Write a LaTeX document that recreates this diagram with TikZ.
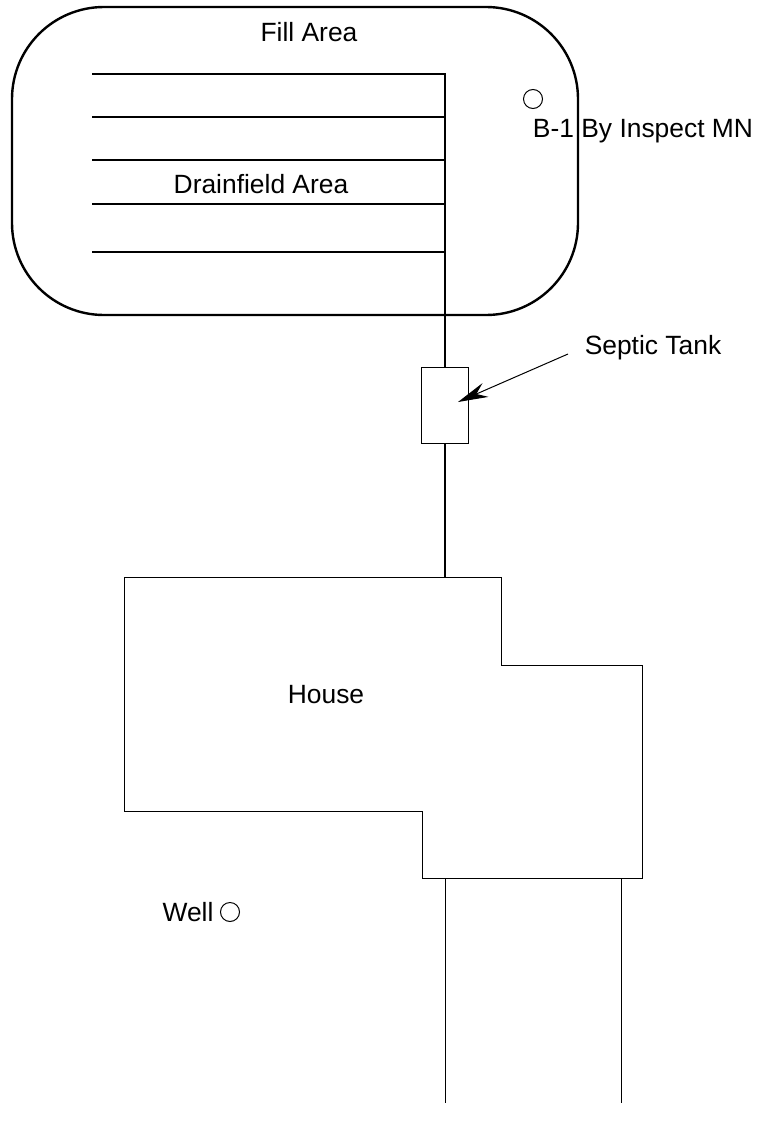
\documentclass[tikz,border=0pt]{standalone}
\usepackage{fontspec}
\setmainfont{Liberation Sans}
\usetikzlibrary{arrows.meta}

\begin{document}
\begin{tikzpicture}[x=1pt,y=-1pt,thin line/.style={line width=1pt},
    thick line/.style={line width=2.4pt},
    label/.style={font=\fontsize{26.4}{30}\selectfont,inner sep=0pt,anchor=base},
    hole/.style={circle,draw,line width=1pt,minimum size=19pt,inner sep=0pt},
    tank/.style={rectangle,draw,thin line,fill=white,minimum width=47pt,minimum height=76pt,inner sep=0pt}]
   \useasboundingbox (0,0) rectangle (760,1132);
   \node[label] (fill) at (309,42) {Fill Area};
   \node[label] (drainfield) at (261,193) {Drainfield Area};
   \node[label] (house) at (326,703) {House};
   \node[label] (septic) at (653,354) {Septic Tank};
   \node[label] (boring) at (643,137) {B-1 By Inspect MN};
   \node[label] (well) at (188,921) {Well};
   \node[hole] (b_1) at (533,99) {};
   \node[hole] (w_1) at (230,912) {};
   \node[tank] (t_1) at (445,405) {};
   \coordinate (top) at (445,74);
   \coordinate (l_1) at (92,74);
   \coordinate (l_2) at (92,117);
   \coordinate (l_3) at (92,160);
   \coordinate (l_4) at (92,204);
   \coordinate (l_5) at (92,252);
   \coordinate (r_2) at (445,117);
   \coordinate (r_3) at (445,160);
   \coordinate (r_4) at (445,204);
   \coordinate (r_5) at (445,252);
   \coordinate (door) at (445,577);
   \coordinate (drive_1) at (445,878);
   \coordinate (drive_2) at (621,878);
   \coordinate (end_1) at (445,1103);
   \coordinate (end_2) at (621,1103);
   \coordinate (tip) at (458,402);
   \coordinate (tail) at (568,354);
   % fill area
   \draw[thick line,rounded corners=92pt] (12,7) rectangle (578,315);
   % drainfield lines
   \draw[thick line] (l_1) -- (top) -- (t_1.north);
   \draw[thick line] (l_2) -- (r_2);
   \draw[thick line] (l_3) -- (r_3);
   \draw[thick line] (l_4) -- (r_4);
   \draw[thick line] (l_5) -- (r_5);
   \draw[thick line] (t_1.south) -- (door);
   % house
   \draw[thin line] (124,577) -- (501,577) -- (501,665) -- (642,665) -- (642,878)
      -- (422,878) -- (422,811) -- (124,811) -- cycle;
   \draw[thin line] (drive_1) -- (end_1);
   \draw[thin line] (drive_2) -- (end_2);
   \draw[thin line,-{Stealth[length=30pt,width=15pt,inset=10pt]}] (tail) -- (tip);
\end{tikzpicture}
\end{document}
